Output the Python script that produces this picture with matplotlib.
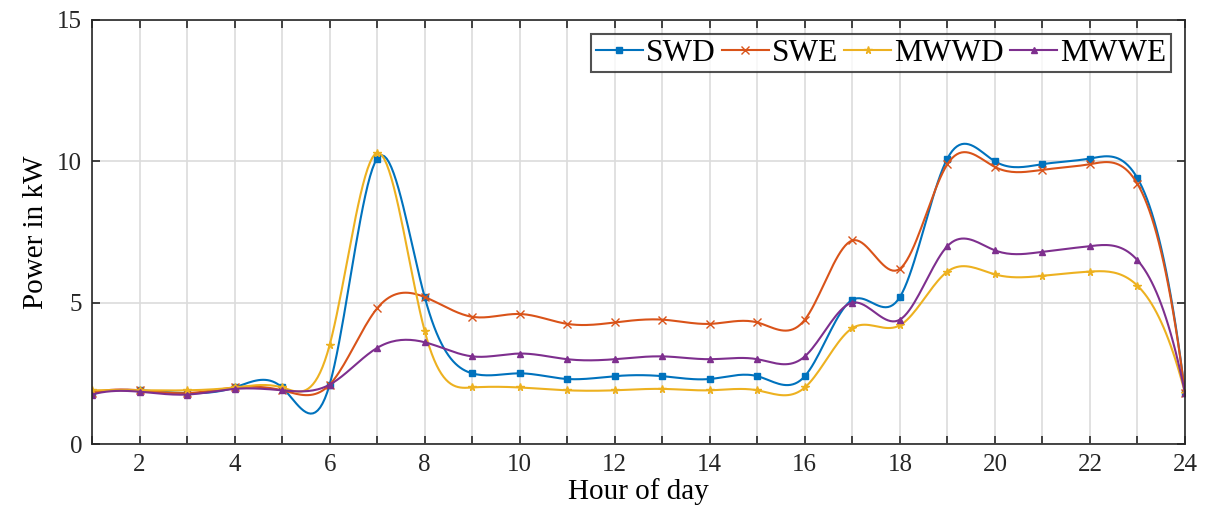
import numpy as np
import matplotlib
matplotlib.use("Agg")
import matplotlib.pyplot as plt

plt.rcParams["font.family"] = ["Liberation Serif", "DejaVu Serif"]
plt.rcParams["mathtext.fontset"] = "stix"

# Hourly load profiles (kW)
hours = np.arange(1, 25)
swd = [1.8, 1.9, 1.8, 2.0, 2.0, 2.1, 10.1, 5.2, 2.5, 2.5, 2.3, 2.4,
       2.4, 2.3, 2.4, 2.4, 5.1, 5.2, 10.1, 10.0, 9.9, 10.1, 9.4, 1.8]
swe = [1.8, 1.9, 1.8, 2.0, 1.9, 2.1, 4.8, 5.2, 4.5, 4.6, 4.25, 4.3,
       4.4, 4.25, 4.3, 4.4, 7.2, 6.2, 9.9, 9.8, 9.7, 9.9, 9.2, 1.8]
mwwd = [1.9, 1.9, 1.9, 2.0, 2.0, 3.5, 10.3, 4.0, 2.0, 2.0, 1.9, 1.9,
        1.95, 1.9, 1.9, 2.0, 4.1, 4.2, 6.1, 6.0, 5.95, 6.1, 5.6, 1.8]
mwwe = [1.75, 1.85, 1.75, 1.95, 1.9, 2.1, 3.4, 3.6, 3.1, 3.2, 3.0, 3.0,
        3.1, 3.0, 3.0, 3.1, 5.0, 4.4, 7.0, 6.85, 6.8, 7.0, 6.5, 1.8]

labels = ["SWD", "SWE", "MWWD", "MWWE"]
colors = ["#0072BD", "#D95319", "#EDB120", "#7E2F8E"]
markers = ["s", "x", "*", "^"]


def spline(x, y, xs):
    # cubic spline with not-a-knot ends (like MATLAB's spline)
    x = np.asarray(x, float)
    y = np.asarray(y, float)
    n = len(x)
    h = np.diff(x)
    A = np.zeros((n, n))
    b = np.zeros(n)
    A[0, 0], A[0, 1], A[0, 2] = h[1], -(h[0] + h[1]), h[0]
    A[-1, -3], A[-1, -2], A[-1, -1] = h[-1], -(h[-2] + h[-1]), h[-2]
    for i in range(1, n - 1):
        A[i, i - 1] = h[i - 1]
        A[i, i] = 2 * (h[i - 1] + h[i])
        A[i, i + 1] = h[i]
        b[i] = 6 * ((y[i + 1] - y[i]) / h[i] - (y[i] - y[i - 1]) / h[i - 1])
    M = np.linalg.solve(A, b)
    idx = np.clip(np.searchsorted(x, xs) - 1, 0, n - 2)
    x0, x1 = x[idx], x[idx + 1]
    hh = x1 - x0
    return (M[idx] * (x1 - xs) ** 3 / (6 * hh) + M[idx + 1] * (xs - x0) ** 3 / (6 * hh)
            + (y[idx] / hh - M[idx] * hh / 6) * (x1 - xs)
            + (y[idx + 1] / hh - M[idx + 1] * hh / 6) * (xs - x0))


step = 20
xs = np.linspace(hours[0], hours[-1], (len(hours) - 1) * step + 1)

fig = plt.figure(figsize=(12.06, 5.22), dpi=100)
ax = fig.add_axes([0.0763, 0.1494, 0.9063, 0.8123])

for data, lab, c, m in zip([swd, swe, mwwd, mwwe], labels, colors, markers):
    ms = 5.5 if m in ("x", "*") else 4.5
    ax.plot(xs, spline(hours, data, xs), color=c, lw=1.5, marker=m, ms=ms,
            markevery=step, label=lab)

ax.set_xlim(1, 24)
ax.set_ylim(0, 15)
ax.set_xticks(hours)
ax.set_xticklabels([str(h) if h % 2 == 0 else "" for h in hours])
ax.set_yticks([0, 5, 10, 15])
ax.grid(True, color="#dcdcdc", lw=1.2)
ax.set_axisbelow(True)
ax.tick_params(direction="in", top=True, right=True, labelsize=18,
               length=6, width=1.2, colors="#262626", pad=7)
for s in ax.spines.values():
    s.set_color("#262626")
    s.set_linewidth(1.2)

ax.set_xlabel("Hour of day", fontsize=21, labelpad=2)
ax.set_ylabel("Power in kW", fontsize=21, labelpad=6)

leg = ax.legend(loc="upper right", ncol=4, fontsize=22.5, frameon=True, fancybox=False,
                handlelength=1.5, handletextpad=0.1, columnspacing=0.2,
                borderpad=0.15, borderaxespad=0.45, edgecolor="#262626")
leg.get_frame().set_linewidth(1.5)

fig.savefig("out.png", dpi=100)
